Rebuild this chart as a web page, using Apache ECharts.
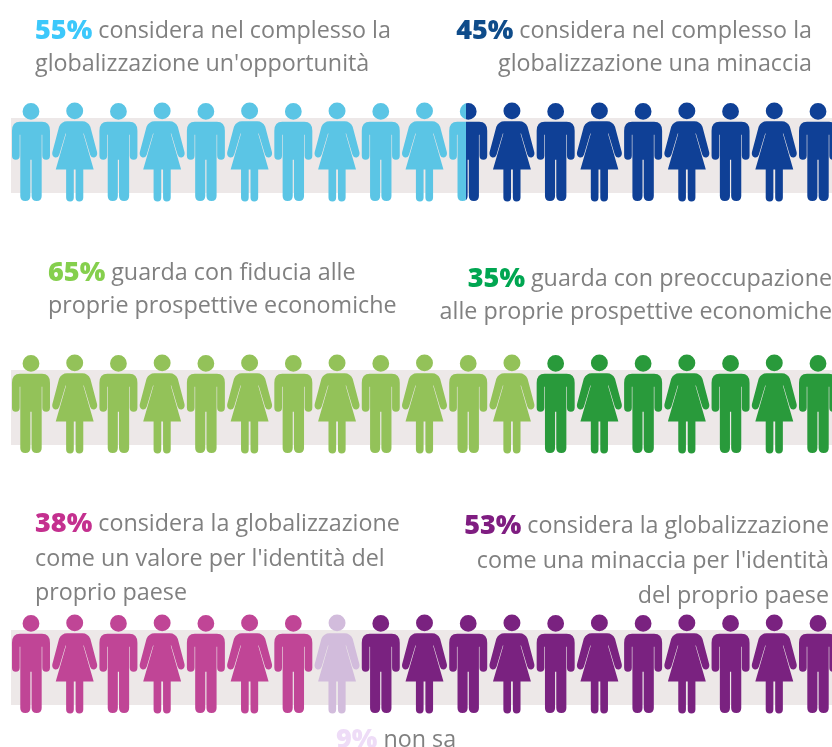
<!DOCTYPE html>
<html>
<head>
<meta charset="utf-8">
<style>html,body{margin:0;padding:0;background:#fff}#chart{width:832px;height:747px}</style>
<script src="https://cdn.jsdelivr.net/npm/echarts@6/dist/echarts.min.js"></script>
</head>
<body>
<div id="chart"></div>
<script>
// figures per segment, 19 figures stand for 100%
var figureCount = 19;
var row1Counts = [10.45, 8.55];
var row2Counts = [12, 7];
var row3Counts = [7, 1, 11];
var row1Colors = ["#5bc5e5", "#0f4096"];
var row2Colors = ["#93c259", "#299a3b"];
var row3Colors = ["#c04596", "#d2bcdc", "#7a2280"];

var row1LeftPct = "55%";
var row1LeftText = ["considera nel complesso la", "globalizzazione un'opportunità"];
var row1RightPct = "45%";
var row1RightText = ["considera nel complesso la", "globalizzazione una minaccia"];
var row2LeftPct = "65%";
var row2LeftText = ["guarda con fiducia alle", "proprie prospettive economiche"];
var row2RightPct = "35%";
var row2RightText = ["guarda con preoccupazione", "alle proprie prospettive economiche"];
var row3LeftPct = "38%";
var row3LeftText = ["considera la globalizzazione", "come un valore per l'identità del", "proprio paese"];
var row3RightPct = "53%";
var row3RightText = ["considera la globalizzazione", "come una minaccia per l'identità", "del proprio paese"];
var row3MidPct = "9%";
var row3MidText = ["non sa"];

var manPath = "path://M19 -0.7A8.4 8.4 0 1 1 19 16.1A8.4 8.4 0 1 1 19 -0.7ZM8 18L30 18Q38 18 38 27L38 52Q38 56 34.2 56Q30.3 56 30.3 52L30.3 31L29.7 31L29.7 92Q29.7 97 24.7 97Q19.6 97 19.6 92L19.6 56L18.4 56L18.4 92Q18.4 97 13.3 97Q8.3 97 8.3 92L8.3 31L7.7 31L7.7 52Q7.7 56 3.8 56Q0 56 0 52L0 27Q0 18 8 18Z";
var womanPath = "path://M22.5 -0.7A8.4 8.4 0 1 1 22.5 16.1A8.4 8.4 0 1 1 22.5 -0.7ZM15 18L30 18Q35.5 18 38 23.5L44.7 49Q45.3 52.5 42.5 54Q39 55 37.8 51.5L31.5 30.3L31 30.3L41.3 66L31 66L31 94Q31 98 27 98Q23.4 98 23.4 94L23.4 66L21.6 66L21.6 94Q21.6 98 18 98Q14 98 14 94L14 66L3.7 66L14 30.3L13.5 30.3L7.2 51.5Q6 55 2.5 54Q-0.3 52.5 0.3 49L7 23.5Q9.5 18 15 18Z";

function figureColor(i, counts, colors) {
  // a figure can be shared by two segments, then it gets a hard colour stop
  var start = 0;
  for (var s = 0; s < counts.length; s++) {
    var end = start + counts[s];
    if (i >= start && i + 1 <= end) return colors[s];
    if (i >= start && i < end) {
      var f = end - i;
      return new echarts.graphic.LinearGradient(0, 0, 1, 0, [
        { offset: f, color: colors[s] },
        { offset: f, color: colors[s + 1] }
      ]);
    }
    start = end;
  }
  return colors[colors.length - 1];
}

function rowSeries(idx, counts, colors) {
  var data = [];
  for (var i = 0; i < figureCount; i++) {
    var isMan = i % 2 === 0;
    data.push({
      value: [i, 0.547],
      symbol: isMan ? manPath : womanPath,
      symbolSize: isMan ? [38, 98] : [45, 99],
      itemStyle: { color: figureColor(i, counts, colors), opacity: 1 }
    });
  }
  return {
    type: "scatter",
    xAxisIndex: idx,
    yAxisIndex: idx,
    clip: false,
    silent: true,
    data: data
  };
}

function caption(pct, color, lines, x, y, right, lineHeight) {
  var txt = "{p|" + pct + "} {t|" + lines[0] + "}";
  for (var i = 1; i < lines.length; i++) txt += "\n{t|" + lines[i] + "}";
  return {
    text: txt,
    left: x,
    top: y,
    padding: 0,
    textAlign: right ? "right" : "left",
    textStyle: {
      fontWeight: "normal",
      fontFamily: "Open Sans",
      fontSize: 23,
      rich: {
        p: { color: color, fontFamily: "Open Sans", fontWeight: 800, fontSize: 27, lineHeight: lineHeight },
        t: { color: "#808080", fontFamily: "Open Sans", fontWeight: "normal", fontSize: 23.3, lineHeight: lineHeight }
      }
    }
  };
}

var bandTops = [118, 370, 630];
var grids = [], xAxes = [], yAxes = [];
for (var r = 0; r < 3; r++) {
  grids.push({ show: true, left: 11, width: 821, top: bandTops[r], height: 75, borderWidth: 0, backgroundColor: "#ede8e8" });
  xAxes.push({ type: "value", gridIndex: r, min: -0.457, max: 18.32, show: false });
  yAxes.push({ type: "value", gridIndex: r, min: 0, max: 1, show: false });
}

var chart = echarts.init(document.getElementById("chart"));
chart.setOption({
  animation: false,
  title: [
    caption(row1LeftPct, "#3cc8fb", row1LeftText, 35, 14.5, false, 33),
    caption(row1RightPct, "#0f4c8a", row1RightText, 812, 14.5, true, 33),
    caption(row2LeftPct, "#85cf4d", row2LeftText, 48, 257, false, 33),
    caption(row2RightPct, "#00a651", row2RightText, 832, 262.5, true, 33),
    caption(row3LeftPct, "#c4308f", row3LeftText, 35, 507.5, false, 34.5),
    caption(row3RightPct, "#7f1d81", row3RightText, 829, 508.5, true, 35),
    caption(row3MidPct, "#eedcf7", row3MidText, 336, 724, false, 33)
  ],
  grid: grids,
  xAxis: xAxes,
  yAxis: yAxes,
  series: [
    rowSeries(0, row1Counts, row1Colors),
    rowSeries(1, row2Counts, row2Colors),
    rowSeries(2, row3Counts, row3Colors)
  ]
});
</script>
</body>
</html>
